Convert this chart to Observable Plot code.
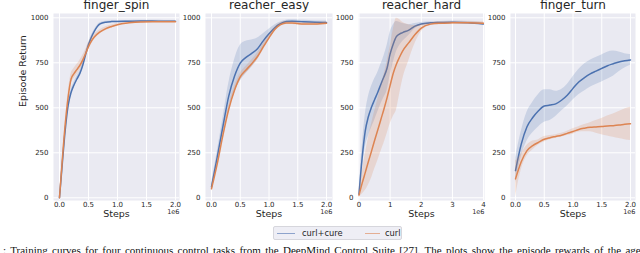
<!DOCTYPE html>
<html>
<head>
<meta charset="utf-8">
<script src="https://cdn.jsdelivr.net/npm/d3@7"></script>
<script src="https://cdn.jsdelivr.net/npm/@observablehq/plot@0.6"></script>
<style>
  html, body { margin: 0; padding: 0; background: white; }
  #root { position: relative; width: 640px; height: 253px; overflow: hidden; font-family: "DejaVu Sans", sans-serif; }
  .panel { position: absolute; top: 0; }
  #legend { position: absolute; left: 273px; top: 226px; width: 129px; height: 14px; box-sizing: border-box;
            background: #EEEEF5; border: 1px solid #D6D6DC; border-radius: 2px; font-size: 8.3px; color: #262626; }
  #legend span { position: absolute; top: 1px; line-height: 11px; white-space: nowrap; }
  #legend i { position: absolute; top: 6px; height: 0; border-top: 1.4px solid; }
  #caption { position: absolute; left: 3px; top: 244px; white-space: nowrap; font-family: "Liberation Serif", serif; font-size: 11px; word-spacing: 1.6px; color: #111; }
</style>
</head>
<body>
<div id="root">
  <div id="legend">
    <i style="left:3px;width:18px;border-color:#4C72B0;opacity:0.6"></i><span style="left:28px">curl+cure</span>
    <i style="left:91px;width:15px;border-color:#DD8452;opacity:0.6"></i><span style="left:111px">curl</span>
  </div>
  <div id="caption">: Training curves for four continuous control tasks from the DeepMind Control Suite [27]. The plots show the episode rewards of the agents</div>
</div>
<script>
// ---- data (steps in units of 1e6) ----
const tasks = ["finger_spin", "reacher_easy", "reacher_hard", "finger_turn"];
const seriesNames = ["curl+cure", "curl"];
const seriesColors = ["#4C72B0", "#DD8452"];
const yTicks = [0, 250, 500, 750, 1000];
const xTicksShort = [0, 0.5, 1.0, 1.5, 2.0];
const xTicksLong = [0, 1, 2, 3, 4];

const spinSteps = [0, 0.05, 0.1, 0.15, 0.2, 0.25, 0.3, 0.35, 0.4, 0.45, 0.5, 0.55, 0.6, 0.7, 0.8, 0.9, 1.0, 1.2, 1.4, 1.6, 1.8, 2.0];
const spinCure = [0, 195, 380, 515, 585, 627, 660, 690, 735, 795, 850, 892, 925, 966, 976, 979, 980, 981, 982, 982, 981, 981];
const spinCureSpread = [5, 10, 12, 15, 15, 15, 15, 15, 15, 15, 12, 10, 8, 6, 5, 5, 4, 4, 4, 4, 4, 4];
const spinCurl = [0, 215, 410, 560, 660, 690, 712, 735, 765, 800, 840, 870, 893, 922, 940, 952, 962, 972, 977, 978, 978, 978];
const spinCurlSpread = [5, 12, 20, 25, 28, 28, 28, 28, 25, 22, 20, 18, 15, 12, 10, 8, 6, 5, 4, 4, 4, 4];

const easySteps = [0, 0.1, 0.2, 0.3, 0.4, 0.5, 0.6, 0.7, 0.8, 0.9, 1.0, 1.1, 1.2, 1.3, 1.4, 1.5, 1.6, 1.8, 2.0];
const easyCure = [60, 226, 398, 565, 675, 748, 780, 802, 828, 872, 911, 945, 967, 979, 981, 980, 978, 975, 974];
const easyCureSpread = [20, 30, 45, 70, 90, 100, 90, 75, 60, 40, 25, 15, 10, 8, 8, 8, 8, 8, 8];
const easyCurl = [50, 189, 350, 492, 598, 672, 710, 745, 785, 838, 889, 935, 962, 971, 971, 968, 966, 966, 970];
const easyCurlSpread = [12, 12, 15, 20, 20, 20, 20, 20, 20, 18, 15, 12, 10, 8, 8, 8, 8, 8, 8];

const hardSteps = [0, 0.1, 0.2, 0.3, 0.4, 0.5, 0.6, 0.7, 0.8, 0.9, 1.0, 1.1, 1.2, 1.3, 1.4, 1.6, 1.8, 2.0, 2.3, 2.6, 3.0, 3.5, 4.0];
const hardCure = [20, 220, 370, 450, 503, 545, 585, 630, 672, 720, 800, 855, 895, 910, 918, 932, 954, 966, 972, 974, 976, 973, 966];
const hardCureSpread = [20, 60, 90, 110, 115, 115, 110, 110, 115, 125, 120, 105, 85, 65, 50, 30, 15, 8, 6, 6, 6, 6, 6];
const hardCurl = [15, 80, 140, 200, 258, 318, 375, 434, 492, 555, 625, 692, 742, 781, 815, 862, 907, 943, 965, 970, 972, 973, 970];
const hardCurlSpread = [15, 60, 100, 130, 150, 160, 170, 180, 190, 200, 215, 240, 255, 210, 160, 100, 50, 20, 8, 8, 8, 8, 8];

const turnSteps = [0, 0.1, 0.2, 0.3, 0.4, 0.5, 0.6, 0.7, 0.8, 0.9, 1.0, 1.1, 1.2, 1.3, 1.4, 1.5, 1.6, 1.7, 1.8, 1.9, 2.0];
const turnCure = [151, 298, 395, 446, 484, 510, 515, 522, 542, 570, 608, 643, 668, 689, 704, 719, 734, 745, 755, 761, 766];
const turnCureSpread = [70, 70, 80, 85, 90, 90, 85, 70, 60, 60, 65, 70, 75, 75, 75, 75, 75, 70, 55, 40, 30];
const turnCurl = [105, 200, 262, 290, 308, 325, 334, 341, 348, 358, 368, 380, 387, 392, 394, 396, 399, 401, 404, 408, 411];
const turnCurlSpread = [100, 45, 30, 25, 15, 15, 12, 10, 10, 12, 15, 15, 20, 25, 35, 45, 55, 65, 75, 85, 92];

// ---- layout (pixels) ----
const panels = [
  {title: tasks[0], steps: spinSteps, cure: spinCure, cureS: spinCureSpread, curl: spinCurl, curlS: spinCurlSpread,
   left: 0, mL: 53, inner: 126, mR: 4, domain: [-0.103, 2.069], ticks: xTicksShort, fmt: 1, ylabel: true},
  {title: tasks[1], steps: easySteps, cure: easyCure, cureS: easyCureSpread, curl: easyCurl, curlS: easyCurlSpread,
   left: 175, mL: 30, inner: 127, mR: 3, domain: [-0.104, 2.104], ticks: xTicksShort, fmt: 1},
  {title: tasks[2], steps: hardSteps, cure: hardCure, cureS: hardCureSpread, curl: hardCurl, curlS: hardCurlSpread,
   left: 328, mL: 30, inner: 126, mR: 3, domain: [-0.016, 4.03], ticks: xTicksLong, fmt: 0},
  {title: tasks[3], steps: turnSteps, cure: turnCure, cureS: turnCureSpread, curl: turnCurl, curlS: turnCurlSpread,
   left: 480, mL: 30, inner: 125, mR: 5, domain: [-0.087, 2.087], ticks: xTicksShort, fmt: 1}
];

function makePanel(p) {
  const rows = [];
  p.steps.forEach((s, i) => {
    rows.push({step: s, series: seriesNames[0], mean: p.cure[i], lo: p.cure[i] - p.cureS[i], hi: p.cure[i] + p.cureS[i]});
    rows.push({step: s, series: seriesNames[1], mean: p.curl[i], lo: p.curl[i] - p.curlS[i], hi: p.curl[i] + p.curlS[i]});
  });
  const marks = [
    Plot.frame({fill: "#EAEAF2", stroke: "none"}),
    Plot.gridX(p.ticks, {stroke: "white", strokeOpacity: 1, strokeWidth: 1}),
    Plot.gridY(yTicks, {stroke: "white", strokeOpacity: 1, strokeWidth: 1})
  ];
  seriesNames.forEach(name => {
    const d = rows.filter(r => r.series === name);
    marks.push(Plot.areaY(d, {x: "step", y1: "lo", y2: "hi", fill: "series", fillOpacity: 0.2, curve: "monotone-x", clip: true}));
    marks.push(Plot.lineY(d, {x: "step", y: "mean", stroke: "series", strokeWidth: 1.5, curve: "monotone-x", clip: true}));
  });
  marks.push(Plot.text([p.title], {frameAnchor: "top", dy: -8, fontSize: 12, lineAnchor: "middle", fill: "#262626"}));
  marks.push(Plot.text(["Steps"], {frameAnchor: "bottom", dy: 13.5, fontSize: 9.5, lineAnchor: "middle", fill: "#262626"}));
  marks.push(Plot.text(["1e6"], {frameAnchor: "bottom-right", dy: 11.5, textAnchor: "end", fontSize: 6.5, lineAnchor: "middle", fill: "#262626"}));
  if (p.ylabel) {
    marks.push(Plot.text(["Episode Return"], {frameAnchor: "left", dx: -31, rotate: -90, fontSize: 9.5, lineAnchor: "middle", fill: "#262626"}));
  }
  const svg = Plot.plot({
    width: p.mL + p.inner + p.mR,
    height: 220,
    marginTop: 13,
    marginBottom: 20,
    marginLeft: p.mL,
    marginRight: p.mR,
    style: {fontFamily: "DejaVu Sans", fontSize: "7px", color: "#262626", background: "transparent", overflow: "visible"},
    x: {domain: p.domain, ticks: p.ticks, tickFormat: d => d.toFixed(p.fmt), tickSize: 0, tickPadding: 1.5, label: null},
    y: {domain: [-15, 1024], ticks: yTicks, tickFormat: d => String(d), tickSize: 0, tickPadding: 5, label: null},
    color: {domain: seriesNames, range: seriesColors},
    marks
  });
  svg.classList.add("panel");
  svg.style.left = p.left + "px";
  svg.style.position = "absolute";
  svg.style.top = "0px";
  return svg;
}

const root = document.getElementById("root");
panels.forEach(p => root.appendChild(makePanel(p)));
</script>
</body>
</html>
